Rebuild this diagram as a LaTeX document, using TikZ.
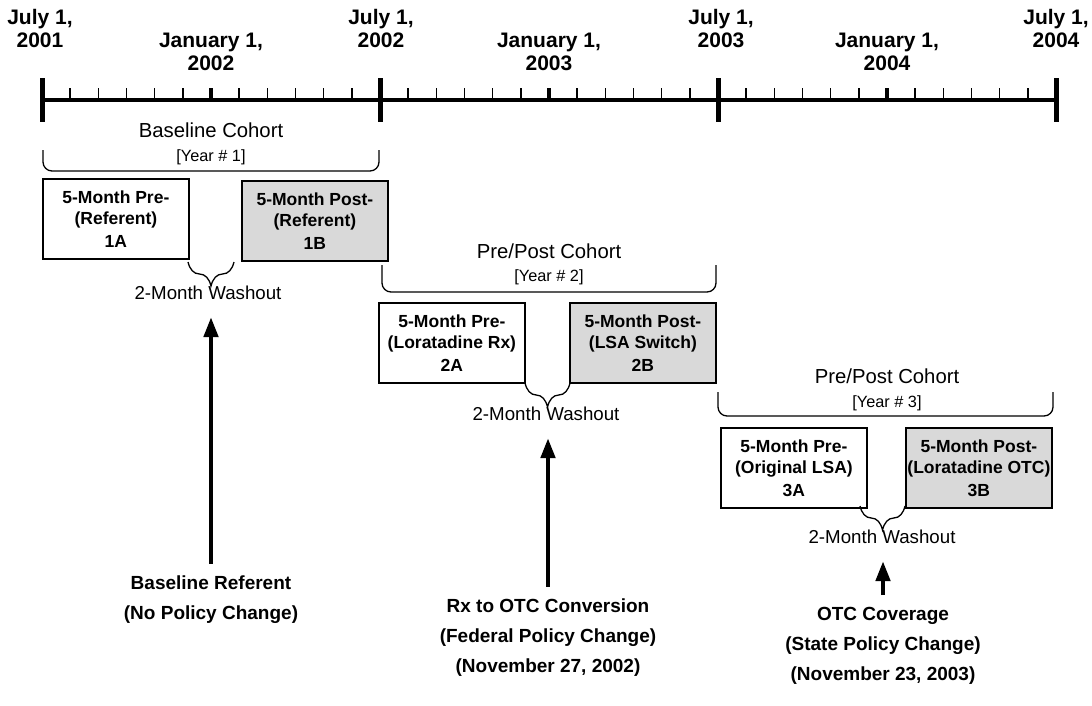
\documentclass[tikz,border=0pt]{standalone}
\usepackage{fontspec}
\setmainfont{Liberation Sans}
\usetikzlibrary{arrows.meta,decorations.pathreplacing}
\begin{document}
\begin{tikzpicture}[x=1pt,y=-1pt,
 hdr/.style={font=\bfseries\fontsize{21}{23}\selectfont, align=center, inner sep=0pt},
 cohortlbl/.style={font=\fontsize{20.3}{24}\selectfont, inner sep=0pt},
 yearlbl/.style={font=\fontsize{16.3}{19}\selectfont, inner sep=0pt},
 prebox/.style={draw, line width=1.8pt, minimum width=146pt, minimum height=80pt, anchor=north west, align=center, inner sep=0pt, font=\bfseries\fontsize{17.5}{21.5}\selectfont},
 postbox/.style={prebox, fill=black!15},
 washlbl/.style={font=\fontsize{18.7}{22}\selectfont, inner sep=0pt},
 wbrace/.style={decorate, decoration={brace, mirror, amplitude=24pt}, line width=1.3pt},
 cbracket/.style={line width=1.3pt, rounded corners=9pt},
 event/.style={font=\bfseries\fontsize{19}{30}\selectfont, align=center, inner sep=0pt},
 uparrow/.style={line width=4.5pt, -{Triangle[length=20pt,width=14pt]}, shorten >=17pt, shorten <=12pt}
]
\useasboundingbox (0,0) rectangle (1092,705);

% timeline
\draw[line width=4pt] (42,100) -- (1056,100);
\foreach \k in {0,...,35}{
  \draw[line width=1.5pt] ({42+\k*338/12},88) -- ({42+\k*338/12},100);
}
\foreach \x in {211,549,887}{
  \draw[line width=3.5pt] (\x,88) -- (\x,100);
}
\foreach \x in {42,380,718,1056}{
  \draw[line width=5pt] (\x,78) -- (\x,122);
}

% header labels
\node[hdr] (h1) at (40,28.5) {July 1,\\2001};
\node[hdr] (h2) at (381,28.5) {July 1,\\2002};
\node[hdr] (h3) at (721,28.5) {July 1,\\2003};
\node[hdr] (h4) at (1056,28.5) {July 1,\\2004};
\node[hdr] (j1) at (211,51.5) {January 1,\\2002};
\node[hdr] (j2) at (549,51.5) {January 1,\\2003};
\node[hdr] (j3) at (887,51.5) {January 1,\\2004};

% cohort labels and brackets
\node[cohortlbl] (c1) at (211,130) {Baseline Cohort};
\node[yearlbl] (y1) at (211,157) {[Year \# 1]};
\draw[cbracket] (43,150) -- (43,171) -- (379,171) -- (379,150);

\node[cohortlbl] (c2) at (549,251) {Pre/Post Cohort};
\node[yearlbl] (y2) at (549,277) {[Year \# 2]};
\draw[cbracket] (382,265) -- (382,292) -- (716,292) -- (716,265);

\node[cohortlbl] (c3) at (887,376) {Pre/Post Cohort};
\node[yearlbl] (y3) at (887,403) {[Year \# 3]};
\draw[cbracket] (718,392) -- (718,416) -- (1053,416) -- (1053,392);

% boxes
\node[prebox] (b1A) at (42,178) {5-Month Pre-\\(Referent)\\[1pt]1A};
\node[postbox] (b1B) at (241,180) {5-Month Post-\\(Referent)\\[1pt]1B};
\node[prebox] (b2A) at (378,302) {5-Month Pre-\\(Loratadine Rx)\\[1pt]2A};
\node[postbox] (b2B) at (569,302) {5-Month Post-\\(LSA Switch)\\[1pt]2B};
\node[prebox] (b3A) at (720,427) {5-Month Pre-\\(Original LSA)\\[1pt]3A};
\node[postbox] (b3B) at (905,427) {5-Month Post-\\(Loratadine OTC)\\[1pt]3B};

% washout braces
\draw[wbrace] (188,262) -- (234,262);
\node[washlbl] (w1) at (208,293) {2-Month Washout};
\draw[wbrace] (525,383) -- (570,383);
\node[washlbl] (w2) at (546,414) {2-Month Washout};
\draw[wbrace] (860,506) -- (905,506);
\node[washlbl] (w3) at (882,537) {2-Month Washout};

% events
\node[event] (e1) at (211,600) {Baseline Referent\\(No Policy Change)};
\node[event] (e2) at (548,638) {Rx to OTC Conversion\\(Federal Policy Change)\\(November 27, 2002)};
\node[event] (e3) at (883,646) {OTC Coverage\\(State Policy Change)\\(November 23, 2003)};

\draw[uparrow] (e1.north) -- (e1.north |- w1.south);
\draw[uparrow] (e2.north) -- (e2.north |- w2.south);
\draw[uparrow] (e3.north) -- (e3.north |- w3.south);
\end{tikzpicture}
\end{document}
